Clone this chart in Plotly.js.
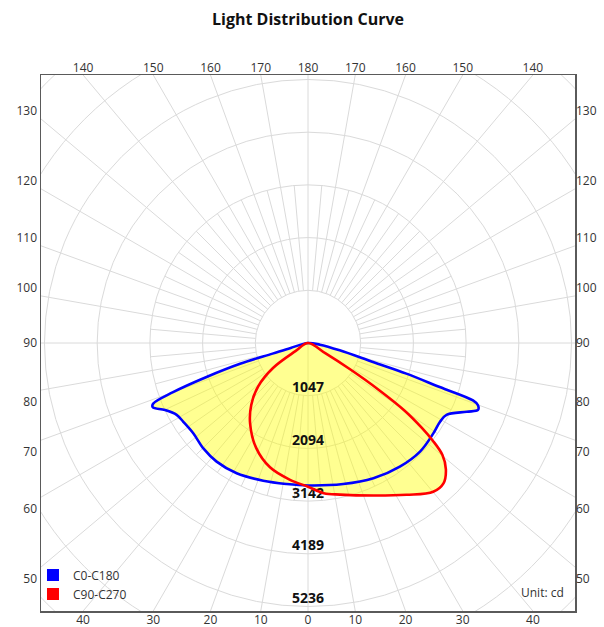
<!DOCTYPE html>
<html>
<head>
<meta charset="utf-8">
<script src="https://cdn.plot.ly/plotly-3.0.1.min.js"></script>
<style>
html, body { margin: 0; padding: 0; background: #ffffff; }
#chart { width: 604px; height: 627px; }
</style>
</head>
<body>
<div id="chart"></div>
<script>
// ---------------- data ----------------
const SERIES_NAMES = ['C0-C180', 'C90-C270'];

// signed gamma angle (deg, 0 = nadir, negative = left half) and intensity (cd)
const C0_C180_ANGLE = [-90, -74, -73.3, -73, -71.5, -70, -68.6, -67.5, -64.9, -61.3, -57.7, -51.8, -44.8, -37.6, -28.7, -18, -8.6, 0,
                       14, 25.8, 36.6, 45.9, 54.2, 59.2, 62.6, 66.6, 68.5, 69.9, 70.8, 71.5, 72.7, 73.7, 77, 82, 90];
const C0_C180_CD    = [0, 358, 735, 1411, 2126, 2853, 3306, 3338, 3139, 2975, 2931, 2901, 2951, 2975, 2951, 2877, 2833, 2831,
                       2889, 2986, 3060, 3100, 3070, 3054, 3100, 3437, 3630, 3596, 3471, 2760, 2047, 1345, 646, 238, 0];

const C90_C270_ANGLE = [-90, -57, -54.5, -49, -42.5, -35.8, -26.3, -17, -7.5, 0,
                        6, 12, 23.2, 33, 40.1, 44, 47.5, 50.2, 52, 53.3, 55, 56.5, 58, 59.5, 90];
const C90_C270_CD    = [0, 298, 854, 1311, 1669, 1967, 2325, 2583, 2742, 2855,
                        3000, 3080, 3298, 3596, 3863, 3875, 3716, 3477, 3139, 2822, 2345, 1689, 994, 397, 0];

const RING_LABELS = [1047, 2094, 3142, 4189, 5236];

const BOTTOM_TICK_ANGLES = [-40, -30, -20, -10, 0, 10, 20, 30, 40];
const BOTTOM_TICK_TEXT   = ['40', '30', '20', '10', '0', '10', '20', '30', '40'];
const TOP_TICK_TEXT      = ['140', '150', '160', '170', '180', '170', '160', '150', '140'];
const SIDE_TICK_ANGLES   = [50, 60, 70, 80, 90, 100, 110, 120, 130];
const SIDE_TICK_TEXT     = ['50', '60', '70', '80', '90', '100', '110', '120', '130'];

// ---------------- geometry / style ----------------
const X_HALF = 5305;            // half width of the square frame, in cd
const Y_HALF = 5325;            // half height of the square frame, in cd
const CD_PER_PX = X_HALF / 267;
const RING_STEP = RING_LABELS[RING_LABELS.length - 1] / RING_LABELS.length;
const GRID = { color: '#dadada', width: 1 };
const FAR = 9000;
const rad = d => d * Math.PI / 180;

// grid: rings and spokes (clipped to the frame by the axes)
const shapes = [];
for (let k = 1; k <= 8; k++) {
  const r = k * RING_STEP;
  shapes.push({ type: 'circle', xref: 'x', yref: 'y', x0: -r, x1: r, y0: -r, y1: r,
                line: GRID, layer: 'below' });
}
for (let a = 0; a < 360; a += 5) {
  let r0, r1;
  if (a % 90 === 0) { r0 = 0; r1 = FAR; }
  else if (a % 10 === 0) { r0 = RING_STEP; r1 = FAR; }
  else { r0 = RING_STEP; r1 = 3 * RING_STEP; }
  const s = Math.sin(rad(a)), c = Math.cos(rad(a));
  shapes.push({ type: 'line', xref: 'x', yref: 'y',
                x0: r0 * s, y0: -r0 * c, x1: r1 * s, y1: -r1 * c,
                line: GRID, layer: 'below' });
}

// tick positions where the spokes meet the frame
const bottomVals = BOTTOM_TICK_ANGLES.map(a => Y_HALF * Math.tan(rad(a)));
const NUDGE_BELOW = 12 * CD_PER_PX, NUDGE_ABOVE = 8.5 * CD_PER_PX;
const sideVals = SIDE_TICK_ANGLES.map(a => {
  const y = -X_HALF * Math.cos(rad(a)) / Math.sin(rad(a));
  if (a < 90) return y - NUDGE_BELOW;
  if (a > 90) return y + NUDGE_ABOVE;
  return y;
});

const tickFont = { family: 'Open Sans, sans-serif', size: 12, color: '#333333' };
const baseAxis = { showgrid: false, zeroline: false, ticks: '', fixedrange: true, tickfont: tickFont };

// ---------------- traces ----------------
const traces = [
  // cartesian placeholders so the frame axes exist
  { type: 'scatter', x: [], y: [], xaxis: 'x', yaxis: 'y', showlegend: false, hoverinfo: 'skip' },
  { type: 'scatter', x: [], y: [], xaxis: 'x2', yaxis: 'y2', showlegend: false, hoverinfo: 'skip' },
  // union fill of both curves
  { type: 'scatterpolar', mode: 'lines',
    r: C0_C180_CD.concat([null], C90_C270_CD),
    theta: C0_C180_ANGLE.concat([null], C90_C270_ANGLE),
    line: { width: 0, color: 'rgba(0,0,0,0)', shape: 'spline' },
    fill: 'toself', fillcolor: 'rgba(255,255,0,0.43)',
    showlegend: false, hoverinfo: 'skip' },
  // ring labels
  { type: 'scatterpolar', mode: 'text',
    r: RING_LABELS, theta: RING_LABELS.map(() => 0),
    text: RING_LABELS.map(String), textposition: 'top center',
    textfont: { family: 'Open Sans, sans-serif', size: 14, color: '#111111', weight: 'bold' },
    showlegend: false, hoverinfo: 'skip' },
  // curves
  { type: 'scatterpolar', mode: 'lines', name: SERIES_NAMES[0],
    r: C0_C180_CD, theta: C0_C180_ANGLE,
    line: { color: '#0000ff', width: 2.6, shape: 'spline' }, showlegend: false },
  { type: 'scatterpolar', mode: 'lines', name: SERIES_NAMES[1],
    r: C90_C270_CD, theta: C90_C270_ANGLE,
    line: { color: '#ff0000', width: 2.6, shape: 'spline' }, showlegend: false },
  // legend entries (square swatches; the markers themselves are too small to see on the plot)
  { type: 'scatterpolar', mode: 'markers', name: SERIES_NAMES[0], r: C0_C180_CD, theta: C0_C180_ANGLE,
    marker: { symbol: 'square', size: 0.01, color: '#0000ff' }, hoverinfo: 'skip' },
  { type: 'scatterpolar', mode: 'markers', name: SERIES_NAMES[1], r: C90_C270_CD, theta: C90_C270_ANGLE,
    marker: { symbol: 'square', size: 0.01, color: '#ff0000' }, hoverinfo: 'skip' }
];

const layout = {
  width: 604, height: 627,
  margin: { l: 41, r: 29, t: 75, b: 16, pad: 0 },
  paper_bgcolor: '#ffffff', plot_bgcolor: '#ffffff',
  font: { family: 'Open Sans, sans-serif', size: 12, color: '#333333' },
  title: { text: 'Light Distribution Curve',
           font: { family: 'Open Sans, sans-serif', size: 16, color: '#111111', weight: 'bold' },
           xref: 'paper', x: 0.5, xanchor: 'center',
           yref: 'container', y: 1 - 19 / 627, yanchor: 'middle' },
  showlegend: true,
  legend: { x: -0.015, xanchor: 'left', y: 0.0045, yanchor: 'bottom',
            bgcolor: 'rgba(0,0,0,0)', font: { size: 12, color: '#333333' },
            itemsizing: 'constant', itemwidth: 30, tracegroupgap: 0 },
  xaxis: Object.assign({}, baseAxis, { range: [-X_HALF, X_HALF], tickmode: 'array',
           tickvals: bottomVals, ticktext: BOTTOM_TICK_TEXT, ticklabelstandoff: -3,
           showline: true, mirror: true, linecolor: '#5a5a5a', linewidth: 1.5 }),
  xaxis2: Object.assign({}, baseAxis, { range: [-X_HALF, X_HALF], overlaying: 'x', side: 'top', anchor: 'y',
           tickmode: 'array', tickvals: bottomVals, ticktext: TOP_TICK_TEXT, showline: false }),
  yaxis: Object.assign({}, baseAxis, { range: [-Y_HALF, Y_HALF], tickmode: 'array',
           tickvals: sideVals, ticktext: SIDE_TICK_TEXT,
           showline: true, mirror: true, linecolor: '#5a5a5a', linewidth: 1.5 }),
  yaxis2: Object.assign({}, baseAxis, { range: [-Y_HALF, Y_HALF], overlaying: 'y', side: 'right', anchor: 'x',
           tickmode: 'array', tickvals: sideVals, ticktext: SIDE_TICK_TEXT, showline: false }),
  polar: {
    domain: { x: [0, 1], y: [0, 1] },
    bgcolor: 'rgba(0,0,0,0)',
    radialaxis: { visible: false, range: [0, X_HALF] },
    angularaxis: { visible: false, rotation: -90, direction: 'counterclockwise' }
  },
  shapes: shapes,
  annotations: [
    { text: 'Unit: cd', xref: 'paper', yref: 'paper', x: 0.983, y: 0.0354,
      xanchor: 'right', yanchor: 'middle', showarrow: false,
      font: { size: 12, color: '#333333' } }
  ]
};

Plotly.newPlot('chart', traces, layout, { staticPlot: true, displayModeBar: false });
</script>
</body>
</html>
